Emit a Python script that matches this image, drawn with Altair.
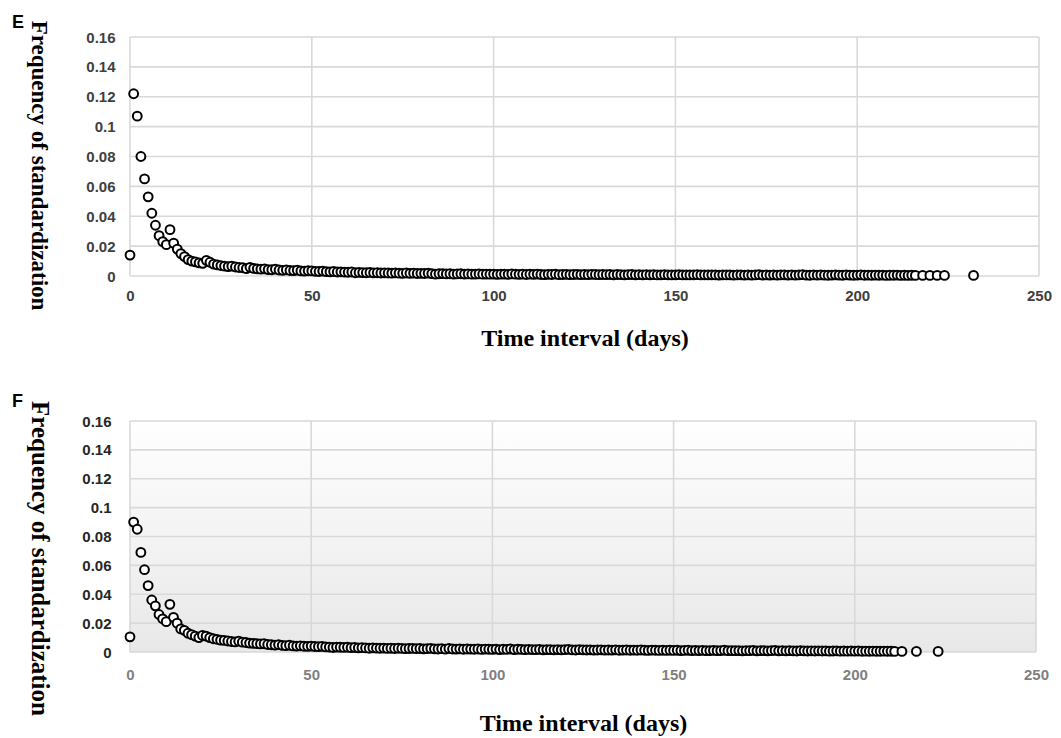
import altair as alt
import pandas as pd

# ---------------- data ----------------
E_DAYS = list(range(0, 217)) + [218, 220, 222, 224, 232]
E_FREQ = [
    0.014, 0.122, 0.107, 0.080, 0.065, 0.053, 0.042, 0.034, 0.027, 0.023,
    0.021, 0.031, 0.022, 0.018, 0.015, 0.013, 0.011, 0.0100, 0.0095, 0.0088,
    0.0085, 0.0105, 0.0092, 0.0080, 0.0074, 0.0070, 0.0066, 0.0063, 0.0066, 0.0060,
    0.0057, 0.0055, 0.0049, 0.0058, 0.0051, 0.0048, 0.0046, 0.0048, 0.0043, 0.0042,
    0.0046, 0.0040, 0.0038, 0.0041, 0.0037, 0.0036, 0.0039, 0.0034, 0.0033, 0.0035,
    0.0034, 0.0031, 0.0030, 0.0033, 0.0029, 0.0028, 0.0030, 0.0027, 0.0028, 0.0026,
    0.0025, 0.0027, 0.0022, 0.0024, 0.0023, 0.0022, 0.0024, 0.0021, 0.0022, 0.0020,
    0.0021, 0.0020, 0.0019, 0.0021, 0.0019, 0.0018, 0.0020, 0.0018, 0.0019, 0.0017,
    0.0018, 0.0017, 0.0019, 0.0016, 0.0013, 0.0015, 0.0016, 0.0014, 0.0015, 0.0013,
    0.0014, 0.0015, 0.0013, 0.0014, 0.0012, 0.0013, 0.0014, 0.0012, 0.0013, 0.0012,
    0.0013, 0.0011, 0.0012, 0.0013, 0.0011, 0.0014, 0.0012, 0.0011, 0.0012, 0.0010,
    0.0012, 0.0011, 0.0013, 0.0010, 0.0009, 0.0011, 0.0010, 0.0012, 0.0009, 0.0010,
    0.0011, 0.0009, 0.0010, 0.0011, 0.0009, 0.0010, 0.0009, 0.0011, 0.0010, 0.0009,
    0.0010, 0.0009, 0.0010, 0.0008, 0.0010, 0.0009, 0.0008, 0.0009, 0.0010, 0.0008,
    0.0009, 0.0008, 0.0009, 0.0008, 0.0009, 0.0007, 0.0008, 0.0009, 0.0008, 0.0007,
    0.0008, 0.0009, 0.0007, 0.0008, 0.0007, 0.0008, 0.0009, 0.0007, 0.0008, 0.0007,
    0.0008, 0.0007, 0.0006, 0.0008, 0.0007, 0.0008, 0.0006, 0.0007, 0.0008, 0.0006,
    0.0007, 0.0006, 0.0007, 0.0009, 0.0006, 0.0007, 0.0006, 0.0008, 0.0006, 0.0007,
    0.0008, 0.0006, 0.0007, 0.0006, 0.0007, 0.0009, 0.0006, 0.0005, 0.0007, 0.0006,
    0.0007, 0.0006, 0.0005, 0.0006, 0.0008, 0.0006, 0.0005, 0.0007, 0.0006, 0.0005,
    0.0006, 0.0008, 0.0005, 0.0006, 0.0005, 0.0006, 0.0005, 0.0006, 0.0004, 0.0005,
    0.0005, 0.0006, 0.0004, 0.0005, 0.0004, 0.0005, 0.0004,
    0.0004, 0.0004, 0.0004, 0.0004, 0.0004,
]

F_DAYS = list(range(0, 212)) + [213, 217, 223]
F_FREQ = [
    0.0105, 0.090, 0.085, 0.069, 0.057, 0.046, 0.036, 0.032, 0.026, 0.023,
    0.021, 0.033, 0.024, 0.020, 0.016, 0.015, 0.013, 0.012, 0.011, 0.010,
    0.0115, 0.0110, 0.0100, 0.0092, 0.0088, 0.0082, 0.0080, 0.0076, 0.0073, 0.0070,
    0.0075, 0.0068, 0.0066, 0.0062, 0.0060, 0.0058, 0.0056, 0.0057, 0.0052, 0.0050,
    0.0048, 0.0051, 0.0046, 0.0044, 0.0047, 0.0042, 0.0041, 0.0043, 0.0040, 0.0039,
    0.0041, 0.0038, 0.0037, 0.0039, 0.0035, 0.0034, 0.0031, 0.0034, 0.0033, 0.0032,
    0.0033, 0.0030, 0.0031, 0.0029, 0.0030, 0.0028, 0.0026, 0.0029, 0.0027, 0.0026,
    0.0027, 0.0025, 0.0026, 0.0024, 0.0026, 0.0025, 0.0023, 0.0024, 0.0025, 0.0023,
    0.0024, 0.0022, 0.0023, 0.0025, 0.0022, 0.0021, 0.0023, 0.0020, 0.0024, 0.0021,
    0.0020, 0.0022, 0.0019, 0.0021, 0.0020, 0.0019, 0.0021, 0.0018, 0.0020, 0.0019,
    0.0018, 0.0020, 0.0017, 0.0019, 0.0018, 0.0021, 0.0017, 0.0019, 0.0018, 0.0016,
    0.0018, 0.0017, 0.0016, 0.0018, 0.0015, 0.0017, 0.0016, 0.0015, 0.0017, 0.0015,
    0.0016, 0.0018, 0.0015, 0.0014, 0.0016, 0.0015, 0.0014, 0.0015, 0.0013, 0.0014,
    0.0015, 0.0013, 0.0014, 0.0013, 0.0015, 0.0012, 0.0013, 0.0014, 0.0012, 0.0013,
    0.0012, 0.0014, 0.0012, 0.0011, 0.0013, 0.0012, 0.0011, 0.0012, 0.0011, 0.0012,
    0.0011, 0.0012, 0.0010, 0.0011, 0.0012, 0.0010, 0.0011, 0.0010, 0.0011, 0.0009,
    0.0010, 0.0011, 0.0009, 0.0010, 0.0012, 0.0009, 0.0010, 0.0009, 0.0010, 0.0008,
    0.0010, 0.0009, 0.0011, 0.0008, 0.0009, 0.0010, 0.0008, 0.0009, 0.0011, 0.0008,
    0.0009, 0.0008, 0.0009, 0.0008, 0.0007, 0.0009, 0.0008, 0.0007, 0.0008, 0.0007,
    0.0008, 0.0007, 0.0008, 0.0006, 0.0007, 0.0008, 0.0006, 0.0007, 0.0006, 0.0007,
    0.0006, 0.0007, 0.0005, 0.0006, 0.0005, 0.0006, 0.0005, 0.0005, 0.0006, 0.0005,
    0.0005, 0.0004,
    0.0004, 0.0004, 0.0004,
]

X_TICKS = [0, 50, 100, 150, 200, 250]
Y_TICKS = [0, 0.02, 0.04, 0.06, 0.08, 0.1, 0.12, 0.14, 0.16]

X_TITLE = "Time interval (days)"
Y_TITLE = "Frequency of standardization"

GRID = "#d9d9d9"


def panel(days, freq, letter, w, h, letter_dx, letter_offset, gradient,
          y_title_size, y_title_pad, y_title_y, y_label_color, y_label_pad,
          x_label_color, x_label_pad, x_title_pad):
    df = pd.DataFrame({"day": days, "freq": freq})
    xs = alt.Scale(domain=[0, 250], nice=False, zero=False)
    ys = alt.Scale(domain=[0, 0.16], nice=False)
    xaxis = alt.Axis(
        values=X_TICKS, title=X_TITLE, grid=False, domain=False, ticks=False,
        labelFont="Liberation Sans", labelFontWeight="bold", labelFontSize=15,
        labelColor=x_label_color, labelPadding=x_label_pad, labelFlush=False,
        titleFont="Liberation Serif", titleFontWeight="bold", titleFontSize=24,
        titleColor="black", titlePadding=x_title_pad,
    )
    yaxis = alt.Axis(
        values=Y_TICKS, format="~g", title=Y_TITLE, grid=False, domain=False, ticks=False,
        labelFont="Liberation Sans", labelFontWeight="bold", labelFontSize=15,
        labelColor=y_label_color, labelPadding=y_label_pad, labelFlush=False,
        titleFont="Liberation Serif", titleFontWeight="bold", titleFontSize=y_title_size,
        titleColor="black", titleAngle=90, titleBaseline="top", titlePadding=y_title_pad,
        titleY=y_title_y,
    )

    layers = []
    if gradient:
        bg = alt.Chart(pd.DataFrame({"a": [0]})).mark_rect(
            fill=alt.LinearGradient(
                gradient="linear",
                stops=[alt.GradientStop(color="#ffffff", offset=0),
                       alt.GradientStop(color="#e8e8e8", offset=1)],
                x1=0, x2=0, y1=0, y2=1,
            )
        ).encode(x=alt.value(0), x2=alt.value(w), y=alt.value(0), y2=alt.value(h))
        layers.append(bg)

    xgrid = alt.Chart(pd.DataFrame({"v": X_TICKS})).mark_rule(
        color=GRID, strokeWidth=1.6
    ).encode(x=alt.X("v:Q", scale=xs, axis=xaxis))
    ygrid = alt.Chart(pd.DataFrame({"v": Y_TICKS})).mark_rule(
        color=GRID, strokeWidth=1.6
    ).encode(y=alt.Y("v:Q", scale=ys, axis=yaxis))
    pts = alt.Chart(df).mark_circle(
        size=78, fill="white", stroke="black", strokeWidth=2, opacity=1
    ).encode(
        x=alt.X("day:Q", scale=xs, axis=xaxis),
        y=alt.Y("freq:Q", scale=ys, axis=yaxis),
    )
    layers += [xgrid, ygrid, pts]
    return alt.layer(*layers).properties(
        width=w, height=h,
        title=alt.TitleParams(
            letter, anchor="start", frame="group", dx=letter_dx, offset=letter_offset,
            font="Liberation Sans", fontSize=18, fontWeight="bold", color="black",
        ),
    )


E = panel(E_DAYS, E_FREQ, "E", 909, 239, -118, -12, False,
          23, 36, 128, "#404040", 15, "#404040", 12, 23)
F = panel(F_DAYS, F_FREQ, "F", 906, 231, -118, -10, True,
          25, 30, 137, "#262626", 19, "#7f7f7f", 15, 29)

chart = alt.ConcatChart(concat=[E, F], columns=1, align="none", spacing=42).configure(
    padding={"left": 12, "top": 14, "right": 4, "bottom": 2},
    background="white",
).configure_view(stroke=None)

chart.save("out.html", embed_options={"renderer": "svg", "actions": False})
